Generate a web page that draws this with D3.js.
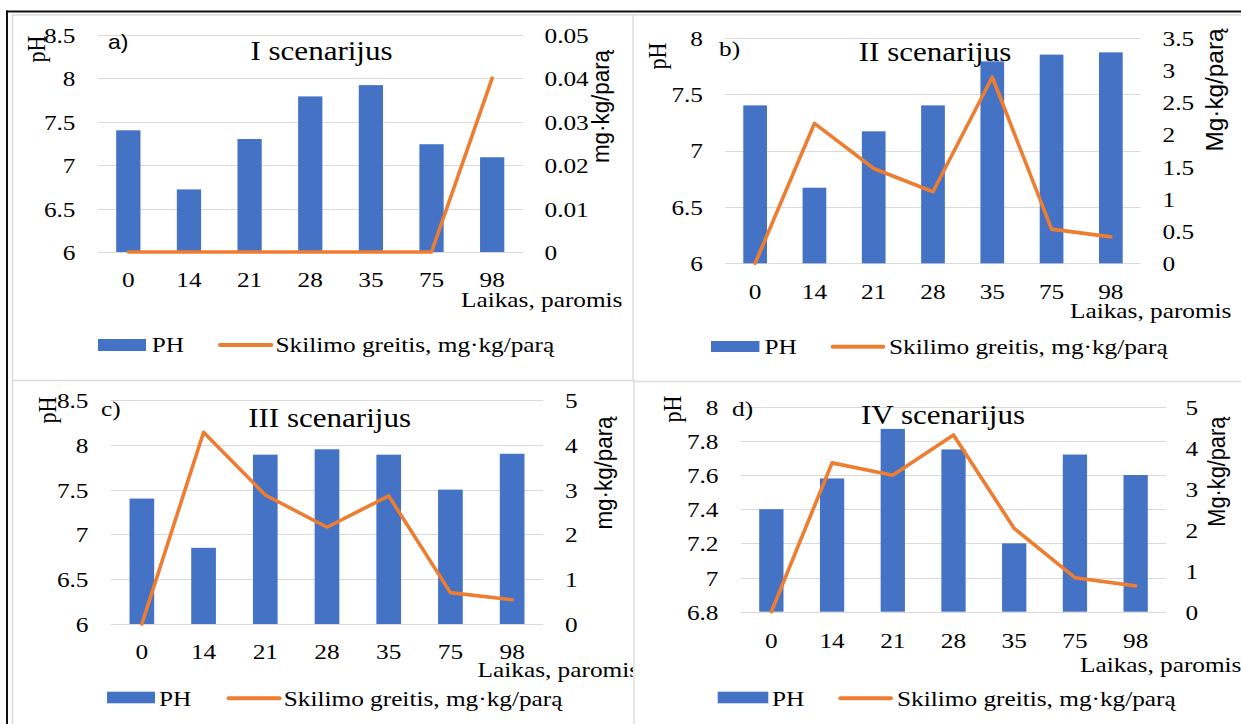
<!DOCTYPE html>
<html><head><meta charset="utf-8">
<script src="https://cdn.jsdelivr.net/npm/d3@7"></script>
<style>body{margin:0;background:#fff}svg{display:block}</style>
</head><body>
<svg id="c" width="1241" height="724"></svg>
<script>
// ---------- data ----------
const categories = ["0","14","21","28","35","75","98"];
const titles = ["I scenarijus","II scenarijus","III scenarijus","IV scenarijus"];
const panelLabels = ["a)","b)","c)","d)"];
const rightTitles = ["mg·kg/parą","Mg·kg/parą","mg·kg/parą","Mg·kg/parą"];
const phA = [7.40,6.72,7.30,7.79,7.92,7.24,7.09];
const rateA = [0,0,0,0,0,0,0.04];
const phB = [7.40,6.67,7.17,7.40,7.79,7.85,7.87];
const rateB = [0,2.17,1.47,1.11,2.89,0.53,0.41];
const phC = [7.40,6.85,7.89,7.95,7.89,7.50,7.90];
const rateC = [0,4.28,2.88,2.16,2.86,0.70,0.54];
const phD = [7.40,7.58,7.87,7.75,7.20,7.72,7.60];
const rateD = [0,3.63,3.33,4.31,2.03,0.83,0.63];
const leftTicksA = [6,6.5,7,7.5,8,8.5];
const rightTicksA = [0,0.01,0.02,0.03,0.04,0.05];
const leftTicksB = [6,6.5,7,7.5,8];
const rightTicksB = [0,0.5,1,1.5,2,2.5,3,3.5];
const leftTicksC = [6,6.5,7,7.5,8,8.5];
const rightTicksC = [0,1,2,3,4,5];
const leftTicksD = [6.8,7,7.2,7.4,7.6,7.8,8];
const rightTicksD = [0,1,2,3,4,5];
const xAxisTitle = "Laikas, paromis";
const yAxisTitle = "pH";
const legendBar = "PH";
const legendLine = "Skilimo greitis, mg·kg/parą";

// ---------- style / layout ----------
const SERIF = "'Liberation Serif','Times New Roman',serif";
const SANS = "'Liberation Sans',Arial,sans-serif";
const SX = 1.15;
const BLUE = "#4472C4", ORANGE = "#ED7D31", GRID = "#d9d9d9";

const layout = [
  {ph:phA, rate:rateA, lt:leftTicksA, rt:rightTicksA, clip:[12,15,621,366],
   x0:98, x1:522.5, yT:34.7, yB:252, title:[321.5,60], lab:[108,49,SANS,20],
   yl:[45,49], rtl:[609,106.5,113], xlab:287.4, xt:[461,307],
   leg:{rect:[98,339,48,12], ph:[151.8,352.4], line:[220,271.4,345], text:[275.5,352.4]}},
  {ph:phB, rate:rateB, lt:leftTicksB, rt:rightTicksB, clip:[633,15,608,366],
   x0:725.5, x1:1140.5, yT:37.7, yB:263.3, title:[935,61], lab:[719,56,SERIF,22],
   yl:[666,56], rtl:[1223,90,123], xlab:299, xt:[1070,318],
   leg:{rect:[711,341,48.4,11], ph:[764.5,354], line:[832.6,883.3,346.7], text:[889,354]}},
  {ph:phC, rate:rateC, lt:leftTicksC, rt:rightTicksC, clip:[12,381,621,343],
   x0:111, x1:543, yT:400, yB:624, title:[329.6,426.5], lab:[101,416,SERIF,22],
   yl:[56,410], rtl:[612,473,113], xlab:659, xt:[477.6,677],
   leg:{rect:[107,691.7,48,11.6], ph:[159,705.5], line:[228.6,279.6,698.3], text:[283.7,705.5]}},
  {ph:phD, rate:rateD, lt:leftTicksD, rt:rightTicksD, clip:[634,381,607,343],
   x0:741, x1:1166, yT:406.7, yB:611.7, title:[943,423.5], lab:[732,416,SERIF,22],
   yl:[681,409], rtl:[1225,471.7,110], xlab:647.5, xt:[1080,672],
   leg:{rect:[717.7,691.7,50.6,11.6], ph:[772,705.5], line:[840.4,891,698.3], text:[897,705.5]}}
];

const svg = d3.select("#c");
const defs = svg.append("defs");

function txt(g, x, y, s, o = {}) {
  const t = g.append("text")
    .attr("transform", `translate(${x},${y}) scale(${o.sx ?? SX},1)` + (o.rot ? ` rotate(${o.rot})` : ""))
    .attr("text-anchor", o.anchor || "start")
    .attr("font-family", o.family || SERIF)
    .attr("font-size", o.size || 22)
    .attr("fill", "#000")
    .text(s);
  if (o.len) t.attr("textLength", o.len).attr("lengthAdjust", "spacingAndGlyphs");
  if (o.dy) t.attr("dy", o.dy);
  return t;
}

// frame
svg.append("line").attr("x1",6).attr("x2",1241).attr("y1",11.5).attr("y2",11.5).attr("stroke","#111").attr("stroke-width",2);
svg.append("line").attr("x1",7).attr("x2",7).attr("y1",10.5).attr("y2",724).attr("stroke","#111").attr("stroke-width",2);
svg.append("line").attr("x1",12).attr("x2",1241).attr("y1",15).attr("y2",15).attr("stroke","#dcdcdc").attr("stroke-width",1.5);
svg.append("line").attr("x1",12.5).attr("x2",12.5).attr("y1",15).attr("y2",724).attr("stroke","#dcdcdc").attr("stroke-width",1.5);
svg.append("line").attr("x1",633).attr("x2",633).attr("y1",15).attr("y2",381).attr("stroke","#dcdcdc").attr("stroke-width",1.5);
svg.append("line").attr("x1",634).attr("x2",634).attr("y1",380).attr("y2",724).attr("stroke","#dcdcdc").attr("stroke-width",1.5);
svg.append("line").attr("x1",12).attr("x2",634).attr("y1",380.5).attr("y2",380.5).attr("stroke","#dcdcdc").attr("stroke-width",1.5);
svg.append("line").attr("x1",633).attr("x2",1241).attr("y1",381.5).attr("y2",381.5).attr("stroke","#dcdcdc").attr("stroke-width",1.5);

layout.forEach((p, i) => {
  defs.append("clipPath").attr("id","clip"+i).append("rect")
    .attr("x",p.clip[0]).attr("y",p.clip[1]).attr("width",p.clip[2]).attr("height",p.clip[3]);
  const g = svg.append("g").attr("clip-path",`url(#clip${i})`);

  const x = d3.scaleBand().domain(categories).range([p.x0, p.x1]).paddingInner(0.6).paddingOuter(0.3);
  const yL = d3.scaleLinear().domain([p.lt[0], p.lt[p.lt.length-1]]).range([p.yB, p.yT]);
  const yR = d3.scaleLinear().domain([p.rt[0], p.rt[p.rt.length-1]]).range([p.yB, p.yT]);

  // gridlines
  g.append("g").selectAll("line").data(p.lt).join("line")
    .attr("x1",p.x0).attr("x2",p.x1)
    .attr("y1",d=>Math.round(yL(d))+0.5).attr("y2",d=>Math.round(yL(d))+0.5)
    .attr("stroke",GRID).attr("stroke-width",1);

  // bars
  g.append("g").selectAll("rect").data(p.ph).join("rect")
    .attr("x",(d,k)=>x(categories[k])).attr("width",x.bandwidth())
    .attr("y",d=>yL(d)).attr("height",d=>p.yB - yL(d))
    .attr("fill",BLUE);

  // line
  const line = d3.line().x((d,k)=>x(categories[k]) + x.bandwidth()/2).y(d=>yR(d));
  g.append("path").datum(p.rate).attr("d",line).attr("fill","none")
    .attr("stroke",ORANGE).attr("stroke-width",3.6).attr("stroke-linejoin","round").attr("stroke-linecap","round");

  // left axis
  const ax = g.append("g").attr("transform",`translate(${p.x0},0)`)
    .call(d3.axisLeft(yL).tickValues(p.lt).tickSize(0).tickPadding(0).tickFormat(d=>String(d)));
  ax.select(".domain").remove();
  ax.attr("font-family",SERIF).attr("font-size",22);
  ax.selectAll("text").attr("x",0).attr("dy","0.34em").attr("fill","#000")
    .attr("text-anchor","end").attr("transform",`translate(-22.5,0) scale(${SX},1)`);

  // right axis
  const axr = g.append("g").attr("transform",`translate(${p.x1},0)`)
    .call(d3.axisRight(yR).tickValues(p.rt).tickSize(0).tickPadding(0).tickFormat(d=>String(d)));
  axr.select(".domain").remove();
  axr.attr("font-family",SERIF).attr("font-size",22);
  axr.selectAll("text").attr("x",0).attr("dy","0.34em").attr("fill","#000")
    .attr("text-anchor","start").attr("transform",`translate(${i===3?19.5:22},0) scale(${SX},1)`);

  // bottom axis
  const axb = g.append("g").attr("transform",`translate(0,${p.yB})`)
    .call(d3.axisBottom(x).tickSize(0).tickPadding(0));
  axb.select(".domain").remove();
  axb.attr("font-family",SERIF).attr("font-size",22);
  axb.selectAll("text").attr("y",0).attr("dy",null).attr("fill","#000")
    .attr("text-anchor","middle").attr("transform",`translate(0,${p.xlab - p.yB}) scale(${SX},1)`);

  // titles & labels
  txt(g, p.title[0], p.title[1], titles[i], {anchor:"middle", size:27});
  txt(g, p.lab[0], p.lab[1], panelLabels[i], {family:p.lab[2], size:p.lab[3]});
  txt(g, p.yl[0], p.yl[1], yAxisTitle, {anchor:"middle", size:22, rot:-90});
  txt(g, p.rtl[0], p.rtl[1], rightTitles[i], {anchor:"middle", size:21, rot:-90, family:SANS, len:p.rtl[2]});
  txt(g, p.xt[0], p.xt[1], xAxisTitle, {size:22});

  // legend
  g.append("rect").attr("x",p.leg.rect[0]).attr("y",p.leg.rect[1]).attr("width",p.leg.rect[2]).attr("height",p.leg.rect[3]).attr("fill",BLUE);
  txt(g, p.leg.ph[0], p.leg.ph[1], legendBar, {size:22});
  g.append("line").attr("x1",p.leg.line[0]).attr("x2",p.leg.line[1]).attr("y1",p.leg.line[2]).attr("y2",p.leg.line[2])
    .attr("stroke",ORANGE).attr("stroke-width",4).attr("stroke-linecap","round");
  txt(g, p.leg.text[0], p.leg.text[1], legendLine, {size:22});
});
</script>
</body></html>
